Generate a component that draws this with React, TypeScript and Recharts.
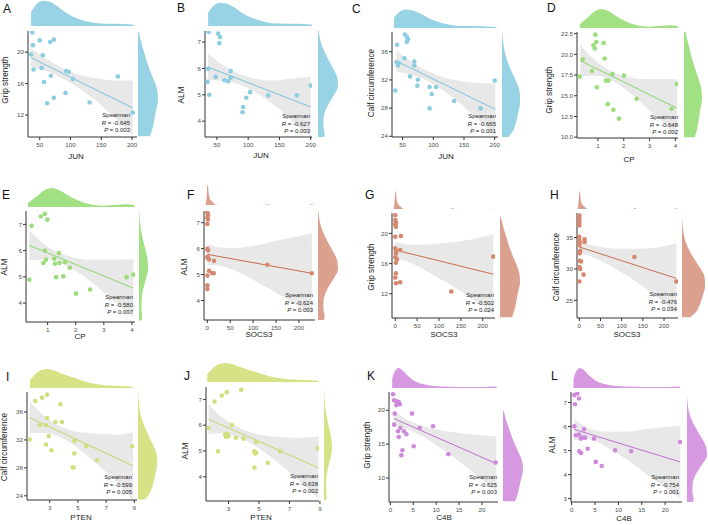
import React from 'react';
import { ComposedChart, AreaChart, Area, Line, Scatter, XAxis, YAxis } from 'recharts';

// scatter points [x, y]
const ptsA = [[38, 22.5], [39, 20.9], [36, 19.7], [40, 17.8], [50, 21.5], [67, 21.3], [73, 21.6], [55, 19.6], [53, 18.0], [57, 16.2], [68, 17.0], [62, 13.5], [73, 14.2], [92, 14.8], [93, 17.6], [97, 17.5], [104, 16.6], [131, 13.6], [177, 16.9], [201, 12.3]];
const ptsB = [[37, 7.38], [52, 7.32], [55, 7.19], [54, 6.96], [36, 5.99], [35, 5.49], [38, 5.0], [48, 5.68], [62, 5.55], [68, 5.51], [72, 5.9], [72, 5.65], [97, 4.89], [92, 4.54], [91, 4.34], [103, 5.1], [132, 4.98], [178, 4.98], [200, 5.35]];
const ptsC = [[41, 37.0], [40, 34.55], [43.5, 34.36], [42, 34.04], [38, 30.5], [53, 35.07], [54, 38.43], [57, 38.1], [58.6, 37.78], [57, 37.4], [69, 34.6], [69, 34.04], [62, 32.5], [75, 32.03], [74, 31.19], [94, 31.0], [97.5, 30.0], [104.5, 31.0], [94, 27.96], [134, 29.0], [177, 27.96], [200, 31.9]];
const ptsD = [[0.9, 22.38], [0.94, 21.5], [0.83, 21.1], [0.88, 20.7], [1.22, 21.38], [1.26, 19.5], [0.41, 19.39], [0.77, 17.99], [0.29, 17.31], [0.96, 16.03], [1.31, 16.83], [1.41, 16.83], [1.56, 17.63], [2.01, 17.43], [1.38, 13.99], [1.6, 13.31], [1.82, 12.24], [2.5, 14.63], [3.85, 13.43], [4.06, 16.43]];
const ptsE = [[0.43, 6.95], [0.76, 7.3], [0.9, 7.4], [0.99, 7.18], [0.35, 4.89], [0.9, 6.0], [0.94, 5.65], [0.85, 5.53], [1.23, 5.69], [1.26, 5.5], [1.4, 5.91], [1.42, 5.53], [1.62, 5.56], [1.79, 5.35], [1.3, 4.99], [1.56, 5.02], [2.01, 4.36], [2.51, 4.52], [3.81, 4.99], [4.05, 5.09]];
const ptsF = [[0, 7.38], [1.5, 7.3], [0, 7.2], [1.5, 7.12], [0, 6.95], [0, 5.99], [1.5, 5.93], [0, 5.68], [1.5, 5.63], [3.6, 5.58], [14.6, 5.53], [3.6, 5.15], [10.2, 5.06], [13.9, 5.05], [0, 4.96], [0, 4.59], [0, 4.44], [131, 5.38], [228, 5.05]];
const ptsG = [[0, 22.4], [0, 21.76], [1.5, 21.45], [0, 21.2], [1.5, 20.88], [0, 19.56], [12.8, 19.65], [0, 18.02], [1.5, 17.67], [11.3, 17.8], [1.5, 17.36], [0, 16.83], [3.8, 16.57], [1.5, 16.13], [1.5, 14.73], [0, 14.15], [1.5, 13.41], [11.3, 13.54], [128, 12.3], [224, 16.92]];
const ptsH = [[0, 38.5], [0, 38.1], [0, 37.7], [0, 37.3], [0, 36.9], [0, 35.1], [0, 34.5], [0.8, 34.2], [12.5, 34.7], [12.5, 34.3], [0, 33.8], [2.3, 32.9], [0.8, 32.5], [0.8, 31.3], [3.9, 31.2], [0, 30.3], [2.3, 30.0], [0, 28.0], [10, 29.1], [130, 31.9], [229, 28.0]];
const ptsI = [[1.58, 32.05], [1.98, 37.57], [2.46, 38.05], [2.81, 38.48], [3.76, 37.1], [2.29, 34.1], [2.74, 34.1], [2.81, 35.14], [3.4, 34.57], [3.87, 34.57], [2.93, 32.57], [2.74, 31.33], [3.12, 30.52], [4.75, 31.86], [4.75, 30.05], [5.58, 31.14], [4.63, 28.05], [4.7, 28.05], [6.36, 29.1], [8.84, 31.1]];
const ptsJ = [[1.69, 5.89], [2.08, 6.92], [2.56, 7.15], [2.89, 7.28], [3.83, 7.37], [2.3, 4.99], [2.78, 5.64], [2.83, 5.55], [2.89, 5.67], [3.0, 5.57], [3.22, 6.0], [3.48, 5.51], [3.98, 5.48], [4.81, 5.35], [4.68, 4.99], [4.75, 4.9], [4.81, 4.94], [4.7, 4.36], [5.58, 4.54], [6.38, 4.99], [8.85, 5.1]];
const ptsK = [[0.58, 22.36], [0.8, 21.48], [1.31, 21.33], [1.82, 21.23], [2.04, 20.89], [1.31, 20.74], [0.95, 19.51], [0.8, 17.88], [4.73, 19.51], [2.18, 17.39], [1.67, 16.9], [6.4, 17.39], [9.31, 17.64], [1.82, 16.06], [2.98, 16.9], [3.49, 16.45], [5.09, 14.68], [2.62, 14.09], [2.4, 13.35], [12.65, 13.5], [22.98, 12.27]];
const ptsL = [[0.57, 7.31], [1.21, 7.38], [1.57, 7.17], [0.71, 6.93], [0.57, 6.01], [0.86, 5.64], [1.57, 5.67], [1.93, 5.5], [2.29, 5.54], [2.86, 5.54], [2.64, 5.89], [1.64, 4.97], [2.0, 4.9], [3.43, 5.08], [4.79, 5.5], [5.14, 4.53], [6.43, 4.36], [9.29, 5.01], [12.71, 4.97], [23.2, 5.36]];

// fitted line ends [x, y]
const fitA = [[36, 19.3], [201, 12.9]];
const fitB = [[36, 6.05], [200, 4.54]];
const fitC = [[40, 34.68], [201, 27.83]];
const fitD = [[0.32, 19.23], [4.06, 13.51]];
const fitE = [[0.35, 6.2], [4.05, 4.57]];
const fitF = [[0, 5.78], [228, 5.05]];
const fitG = [[0, 17.8], [224, 14.6]];
const fitH = [[0, 33.5], [229, 28.5]];
const fitI = [[1.58, 35.19], [8.9, 28.3]];
const fitJ = [[1.69, 6.23], [8.9, 4.35]];
const fitK = [[0.8, 18.77], [23.1, 12.12]];
const fitL = [[0.57, 5.88], [23.2, 4.53]];

// confidence band [x, low, high]
const bandA = [[36, 18.1, 20.5], [60, 17.6, 19.2], [85, 16.75, 18.05], [110, 15.6, 17.2], [140, 13.9, 16.7], [170, 11.8, 16.4], [201, 9.4, 16.4]];
const bandB = [[36, 5.55, 6.55], [60, 5.53, 6.13], [85, 5.4, 5.8], [110, 5.12, 5.62], [140, 4.64, 5.54], [170, 4.02, 5.62], [200, 3.39, 5.69]];
const bandC = [[40, 33.2, 36.2], [60, 32.8, 34.8], [85, 32.1, 33.5], [110, 30.85, 32.55], [140, 28.9, 31.9], [170, 26.6, 31.6], [201, 24.1, 31.5]];
const bandD = [[0.32, 17.4, 21.1], [1.0, 17.4, 19.0], [1.5, 16.9, 18.0], [2.0, 15.9, 17.4], [2.5, 14.7, 17.1], [3.0, 13.2, 17.0], [3.5, 11.8, 17.0], [4.06, 10.1, 17.0]];
const bandE = [[0.35, 5.63, 6.77], [1.0, 5.66, 6.16], [1.5, 5.51, 5.87], [2.0, 5.22, 5.72], [2.5, 4.85, 5.65], [3.0, 4.41, 5.65], [3.5, 3.96, 5.66], [4.05, 3.47, 5.67]];
const bandF = [[0, 5.38, 6.18], [25, 5.35, 6.05], [50, 5.22, 6.02], [100, 4.8, 6.1], [150, 4.3, 6.3], [200, 3.78, 6.48], [228, 3.5, 6.6]];
const bandG = [[0, 16.7, 18.9], [25, 16.34, 18.54], [50, 15.69, 18.49], [100, 14.07, 18.67], [150, 12.36, 18.96], [200, 10.34, 19.54], [224, 9.3, 19.9]];
const bandH = [[0, 32.55, 34.45], [25, 32.05, 33.85], [50, 31.31, 33.51], [100, 29.42, 33.22], [150, 27.23, 33.23], [200, 24.63, 33.63], [229, 22.9, 34.1]];
const bandI = [[1.58, 32.89, 37.49], [2.5, 33.03, 35.63], [3.5, 32.59, 34.19], [4.5, 31.55, 33.35], [5.5, 30.01, 33.01], [6.5, 28.27, 32.87], [7.5, 26.53, 32.73], [8.9, 23.4, 33.1]];
const bandJ = [[1.69, 5.66, 6.8], [2.5, 5.69, 6.35], [3.5, 5.56, 5.96], [4.5, 5.28, 5.72], [5.5, 4.89, 5.59], [6.5, 4.43, 5.53], [7.5, 3.91, 5.51], [8.9, 3.15, 5.55]];
const bandK = [[0.8, 17.57, 19.97], [3, 17.36, 18.86], [6, 16.52, 17.92], [9, 15.33, 17.33], [12, 13.93, 16.93], [15, 12.44, 16.64], [18, 10.84, 16.44], [23.1, 8.12, 16.12]];
const bandL = [[0.57, 5.43, 6.33], [3, 5.49, 5.99], [6, 5.31, 5.81], [9, 4.98, 5.78], [12, 4.6, 5.8], [15, 4.17, 5.87], [18, 3.74, 5.94], [23.2, 3.03, 6.03]];

// marginal densities [value, relative height]
const densJUN = [[36, 0.55], [46, 0.87], [54, 0.97], [65, 0.94], [78, 0.77], [94, 0.49], [111, 0.29], [127, 0.17], [148, 0.1], [170, 0.09], [186, 0.08], [203, 0.05]];
const densCP = [[0.3, 0.2], [0.6, 0.55], [0.9, 0.9], [1.15, 1.0], [1.45, 0.85], [1.85, 0.5], [2.25, 0.25], [2.6, 0.12], [3.0, 0.07], [3.4, 0.1], [3.85, 0.14], [4.1, 0.08]];
const densSOCS3 = [[-4, 0], [-1, 0.6], [0, 1], [1.5, 0.95], [3, 0.6], [5, 0.35], [7, 0.25], [9, 0.2], [11, 0.17], [14, 0.08], [18, 0.02], [25, 0], [124, 0], [128, 0.02], [131, 0.035], [134, 0.02], [138, 0], [222, 0], [226, 0.02], [229, 0.035], [232, 0]];
const densPTEN = [[1.6, 0.42], [2.0, 0.75], [2.4, 0.95], [2.8, 1.0], [3.3, 0.92], [3.8, 0.78], [4.3, 0.65], [4.8, 0.52], [5.4, 0.37], [6.0, 0.25], [6.6, 0.17], [7.3, 0.13], [8.0, 0.1], [8.9, 0.07]];
const densC4B = [[0.4, 0.45], [1.0, 0.85], [1.8, 1.0], [2.6, 0.9], [3.5, 0.68], [4.5, 0.48], [5.7, 0.3], [7.0, 0.2], [8.6, 0.13], [11.5, 0.07], [15, 0.05], [20, 0.05], [23.2, 0.07]];
const densGrip = [[22.6, 0.6], [22, 0.68], [21, 0.78], [20, 0.85], [19, 0.93], [18, 1.0], [17, 0.98], [16, 0.88], [15, 0.72], [14, 0.57], [13, 0.43], [12, 0.32], [11, 0.2], [10, 0.1], [9.3, 0.04]];
const densALM = [[7.45, 0.3], [7.3, 0.33], [7.0, 0.27], [6.7, 0.28], [6.4, 0.38], [6.1, 0.58], [5.8, 0.82], [5.5, 1.0], [5.2, 0.97], [4.9, 0.82], [4.6, 0.6], [4.3, 0.4], [4.0, 0.22], [3.7, 0.1], [3.4, 0.04], [3.1, 0.01]];
const densCalf = [[38.8, 0.35], [38, 0.6], [37, 0.75], [36, 0.85], [35, 0.93], [34, 1.0], [33, 1.0], [32, 0.95], [31, 0.8], [30, 0.62], [29, 0.45], [28, 0.3], [27, 0.18], [26, 0.1], [25, 0.05], [24, 0.02], [23, 0.01]];

const tickJUN = [50, 100, 150, 200];
const tickCP = [1, 2, 3, 4];
const tickSOCS3 = [0, 50, 100, 150, 200];
const tickPTEN = [3, 5, 7, 9];
const tickC4B = [0, 5, 10, 15, 20];

const palette = {
  blue: { dens: '#97d2e5', pt: '#8ccde1', line: '#7cc2da' },
  green: { dens: '#a2e084', pt: '#9bdc7b', line: '#8bd36a' },
  salmon: { dens: '#dca18e', pt: '#d6876e', line: '#c96c4f' },
  lime: { dens: '#d7e287', pt: '#d3de7f', line: '#c8d466' },
  purple: { dens: '#d598e1', pt: '#cf89dc', line: '#c070d2' },
};

const panels = [
  { id: 'A', ox: 0, oy: 0, hue: 'blue', lt: [3, 2.5], plot: [28, 137, 31, 137], xd: [31, 208], yd: [9.2, 22.7], xt: tickJUN, yt: [12, 16, 20], top: densJUN, topBox: [0, 26], right: densGrip, rightBox: [138, 158], pts: ptsA, fit: fitA, band: bandA, xl: 'JUN', yl: 'Grip strength', xlPos: [76, 157], ylPos: [6, 80], r: '-0.645', p: '= 0.002', ann: [130, 116] },
  { id: 'B', ox: 175, oy: 0, hue: 'blue', lt: [2, 2], plot: [30, 137, 31, 137], xd: [31, 202], yd: [3.4, 7.42], xt: tickJUN, yt: [4, 5, 6, 7], top: densJUN, topBox: [2, 26], right: densALM, rightBox: [143, 163], pts: ptsB, fit: fitB, band: bandB, xl: 'JUN', yl: 'ALM', xlPos: [86, 156], ylPos: [7, 95], r: '-0.627', p: '= 0.003', ann: [135, 117] },
  { id: 'C', ox: 350, oy: 0, hue: 'blue', lt: [2, 2.5], plot: [42, 148, 32, 137], xd: [32.7, 205.4], yd: [23.9, 38.8], xt: tickJUN, yt: [24, 28, 32, 36], top: densJUN, topBox: [9, 28], right: densCalf, rightBox: [152, 170], pts: ptsC, fit: fitC, band: bandC, xl: 'JUN', yl: 'Calf circumference', xlPos: [96, 157], ylPos: [22, 83], r: '-0.665', p: '= 0.001', ann: [146, 117] },
  { id: 'D', ox: 525, oy: 0, hue: 'green', lt: [22, 2], plot: [52, 153, 32, 138], xd: [0.19, 4.1], yd: [9.9, 22.7], xt: tickCP, yt: [10, 12.5, 15, 17.5, 20, 22.5], yfix: 1, top: densCP, topBox: [9, 28], right: densGrip, rightBox: [159, 177], pts: ptsD, fit: fitD, band: bandD, xl: 'CP', yl: 'Grip strength', xlPos: [104, 160], ylPos: [25, 90], r: '-0.648', p: '= 0.002', ann: [153, 118] },
  { id: 'E', ox: 0, oy: 170, hue: 'green', lt: [2, 18.5], plot: [26, 135, 41, 152], xd: [0.23, 4.11], yd: [3.28, 7.51], xt: tickCP, yt: [4, 5, 6, 7], top: densCP, topBox: [18, 37], right: densALM, rightBox: [139, 148], pts: ptsE, fit: fitE, band: bandE, xl: 'CP', yl: 'ALM', xlPos: [80, 167], ylPos: [5, 97], r: '-0.580', p: '= 0.007', ann: [133, 128] },
  { id: 'F', ox: 175, oy: 170, hue: 'salmon', lt: [12, 18.5], plot: [29, 140, 41, 150], xd: [-7.3, 235], yd: [3.25, 7.45], xt: tickSOCS3, yt: [4, 5, 6, 7], top: densSOCS3, topBox: [15, 35], right: densALM, rightBox: [143, 163], pts: ptsF, fit: fitF, band: bandF, xl: 'SOCS3', yl: 'ALM', xlPos: [84, 165], ylPos: [10, 97], r: '-0.624', p: '= 0.003', ann: [138, 126] },
  { id: 'G', ox: 350, oy: 170, hue: 'salmon', lt: [15, 18.5], plot: [42, 145, 43, 148], xd: [-7.5, 228], yd: [8.8, 22.7], xt: tickSOCS3, yt: [12, 16, 20], top: densSOCS3, topBox: [21, 39], right: densGrip, rightBox: [150, 170], pts: ptsG, fit: fitG, band: bandG, xl: 'SOCS3', yl: 'Grip strength', xlPos: [94, 165], ylPos: [22, 97], r: '-0.502', p: '= 0.024', ann: [144, 126] },
  { id: 'H', ox: 525, oy: 170, hue: 'salmon', lt: [25, 18.5], plot: [52, 153, 43, 148], xd: [-5.5, 233], yd: [22.2, 38.9], xt: tickSOCS3, yt: [25, 30, 35], top: densSOCS3, topBox: [21, 39], right: densCalf, rightBox: [157, 180], pts: ptsH, fit: fitH, band: bandH, xl: 'SOCS3', yl: 'Calf circumference', xlPos: [102, 165], ylPos: [32, 97], r: '-0.476', p: '= 0.034', ann: [152, 125] },
  { id: 'I', ox: 0, oy: 345, hue: 'lime', lt: [6, 25.5], plot: [27, 137, 47, 155], xd: [1.39, 9.19], yd: [23.4, 38.86], xt: tickPTEN, yt: [24, 28, 32, 36], top: densPTEN, topBox: [24, 43], right: densCalf, rightBox: [138, 157], pts: ptsI, fit: fitI, band: bandI, xl: 'PTEN', yl: 'Calf circumference', xlPos: [81, 173], ylPos: [5, 102], r: '-0.599', p: '= 0.005', ann: [132, 133] },
  { id: 'J', ox: 175, oy: 345, hue: 'lime', lt: [9, 24.5], plot: [31, 144, 42, 156], xd: [1.52, 8.94], yd: [3.06, 7.48], xt: tickPTEN, yt: [4, 5, 6, 7], top: densPTEN, topBox: [18, 37], right: densALM, rightBox: [149, 157], pts: ptsJ, fit: fitJ, band: bandJ, xl: 'PTEN', yl: 'ALM', xlPos: [86, 173], ylPos: [11, 106], r: '-0.638', p: '= 0.002', ann: [143, 132] },
  { id: 'K', ox: 350, oy: 345, hue: 'purple', lt: [17, 24.5], plot: [39, 148, 47, 157], xd: [-0.3, 23.5], yd: [6.45, 22.7], xt: tickC4B, yt: [10, 15, 20], top: densC4B, topBox: [23, 43], right: densGrip, rightBox: [153, 173], pts: ptsK, fit: fitK, band: bandK, xl: 'C4B', yl: 'Grip strength', xlPos: [94, 173], ylPos: [18, 100], r: '-0.625', p: '= 0.003', ann: [147, 133] },
  { id: 'L', ox: 525, oy: 345, hue: 'purple', lt: [26, 24.5], plot: [46, 157, 47, 157], xd: [-0.14, 23.6], yd: [2.86, 7.44], xt: tickC4B, yt: [3, 4, 5, 6, 7], top: densC4B, topBox: [23, 43], right: densALM, rightBox: [162, 182], pts: ptsL, fit: fitL, band: bandL, xl: 'C4B', yl: 'ALM', xlPos: [99, 174], ylPos: [28, 100], r: '-0.754', p: '< 0.001', ann: [154, 133] },
];

const axisStroke = '#333';
const tickStyle = { fontSize: 6.2, fill: '#4d4d4d' };
const PAD = 8; // spare room so edge tick labels are not clipped

function Panel({ p }: { p: any }) {
  const [L, R, T, B] = p.plot;
  const c = palette[p.hue];
  const ptsData = p.pts.map(([x, y]) => ({ x, y }));
  const fitData = p.fit.map(([x, y]) => ({ x, y }));
  const bandData = p.band.map(([x, lo, hi]) => ({ x, r: [lo, hi] }));
  const topData = p.top.map(([x, d]) => ({ x, d }));
  const rightData = p.right.map(([y, d]) => ({ y, d }));
  const yfmt = p.yfix ? (v: number) => v.toFixed(p.yfix) : undefined;

  return (
    <div style={{ position: 'absolute', left: p.ox, top: p.oy }}>
      <div style={{ position: 'absolute', left: p.lt[0], top: p.lt[1], fontSize: 12, lineHeight: '12px', color: '#111' }}>{p.id}</div>

      {/* top marginal density */}
      <div style={{ position: 'absolute', left: 0, top: p.topBox[0] }}>
        <AreaChart width={R} height={p.topBox[1] - p.topBox[0]} data={topData} margin={{ top: 0, right: 0, bottom: 0, left: L }}>
          <XAxis type="number" dataKey="x" domain={p.xd} allowDataOverflow hide />
          <YAxis type="number" domain={[0, 1]} allowDataOverflow hide />
          <Area type="monotone" dataKey="d" stroke="none" fill={c.dens} fillOpacity={1} isAnimationActive={false} />
        </AreaChart>
      </div>

      {/* right marginal density */}
      <div style={{ position: 'absolute', left: p.rightBox[0], top: T }}>
        <AreaChart layout="vertical" width={p.rightBox[1] - p.rightBox[0]} height={B - T} data={rightData} margin={{ top: 0, right: 0, bottom: 0, left: 0 }}>
          <XAxis type="number" domain={[0, 1]} allowDataOverflow hide />
          <YAxis type="number" dataKey="y" domain={p.yd} allowDataOverflow hide />
          <Area type="monotone" dataKey="d" stroke="none" fill={c.dens} fillOpacity={1} isAnimationActive={false} />
        </AreaChart>
      </div>

      {/* main scatter */}
      <div style={{ position: 'absolute', left: 0, top: T - PAD }}>
        <ComposedChart width={R + PAD} height={B - T + 20 + PAD} margin={{ top: PAD, right: PAD, bottom: 0, left: 0 }}>
          <XAxis type="number" dataKey="x" domain={p.xd} ticks={p.xt} interval={0} allowDataOverflow height={20}
            tickSize={3} tickMargin={3} tick={tickStyle} axisLine={{ stroke: axisStroke }} tickLine={{ stroke: axisStroke }} />
          <YAxis type="number" dataKey="y" domain={p.yd} ticks={p.yt} interval={0} allowDataOverflow width={L}
            tickSize={3} tickMargin={1} tick={tickStyle} tickFormatter={yfmt} axisLine={{ stroke: axisStroke }} tickLine={{ stroke: axisStroke }} />
          <Area data={bandData} dataKey="r" type="monotone" stroke="none" fill="#e8e8e8" fillOpacity={1} isAnimationActive={false} />
          <Line data={fitData} dataKey="y" stroke={c.line} strokeWidth={1} dot={false} isAnimationActive={false} />
          <Scatter data={ptsData} fill={c.pt} isAnimationActive={false}
            shape={(s: any) => <circle cx={s.cx} cy={s.cy} r={2.3} fill={c.pt} />} />
        </ComposedChart>
      </div>

      <div style={{ position: 'absolute', left: p.xlPos[0], top: p.xlPos[1], transform: 'translate(-50%, -50%)', fontSize: 8, lineHeight: '8px', color: '#222', whiteSpace: 'nowrap' }}>{p.xl}</div>
      <div style={{ position: 'absolute', left: p.ylPos[0], top: p.ylPos[1], transform: 'translate(-50%, -50%) rotate(-90deg)', fontSize: 8.2, lineHeight: '8px', color: '#222', whiteSpace: 'nowrap' }}>{p.yl}</div>

      <div style={{ position: 'absolute', left: p.ann[0] - 60, top: p.ann[1] - 3.7, width: 60, textAlign: 'right', fontSize: 6, lineHeight: '7.4px', color: '#222' }}>
        <div>Spearman</div>
        <div><i>R</i> = {p.r}</div>
        <div><i>P</i> {p.p}</div>
      </div>
    </div>
  );
}

export default function App() {
  return (
    <div style={{ position: 'fixed', left: 0, top: 0, width: 708, height: 525, background: '#fff', overflow: 'hidden', fontFamily: '"Liberation Sans", Arial, sans-serif' }}>
      {panels.map((p) => <Panel key={p.id} p={p} />)}
    </div>
  );
}
